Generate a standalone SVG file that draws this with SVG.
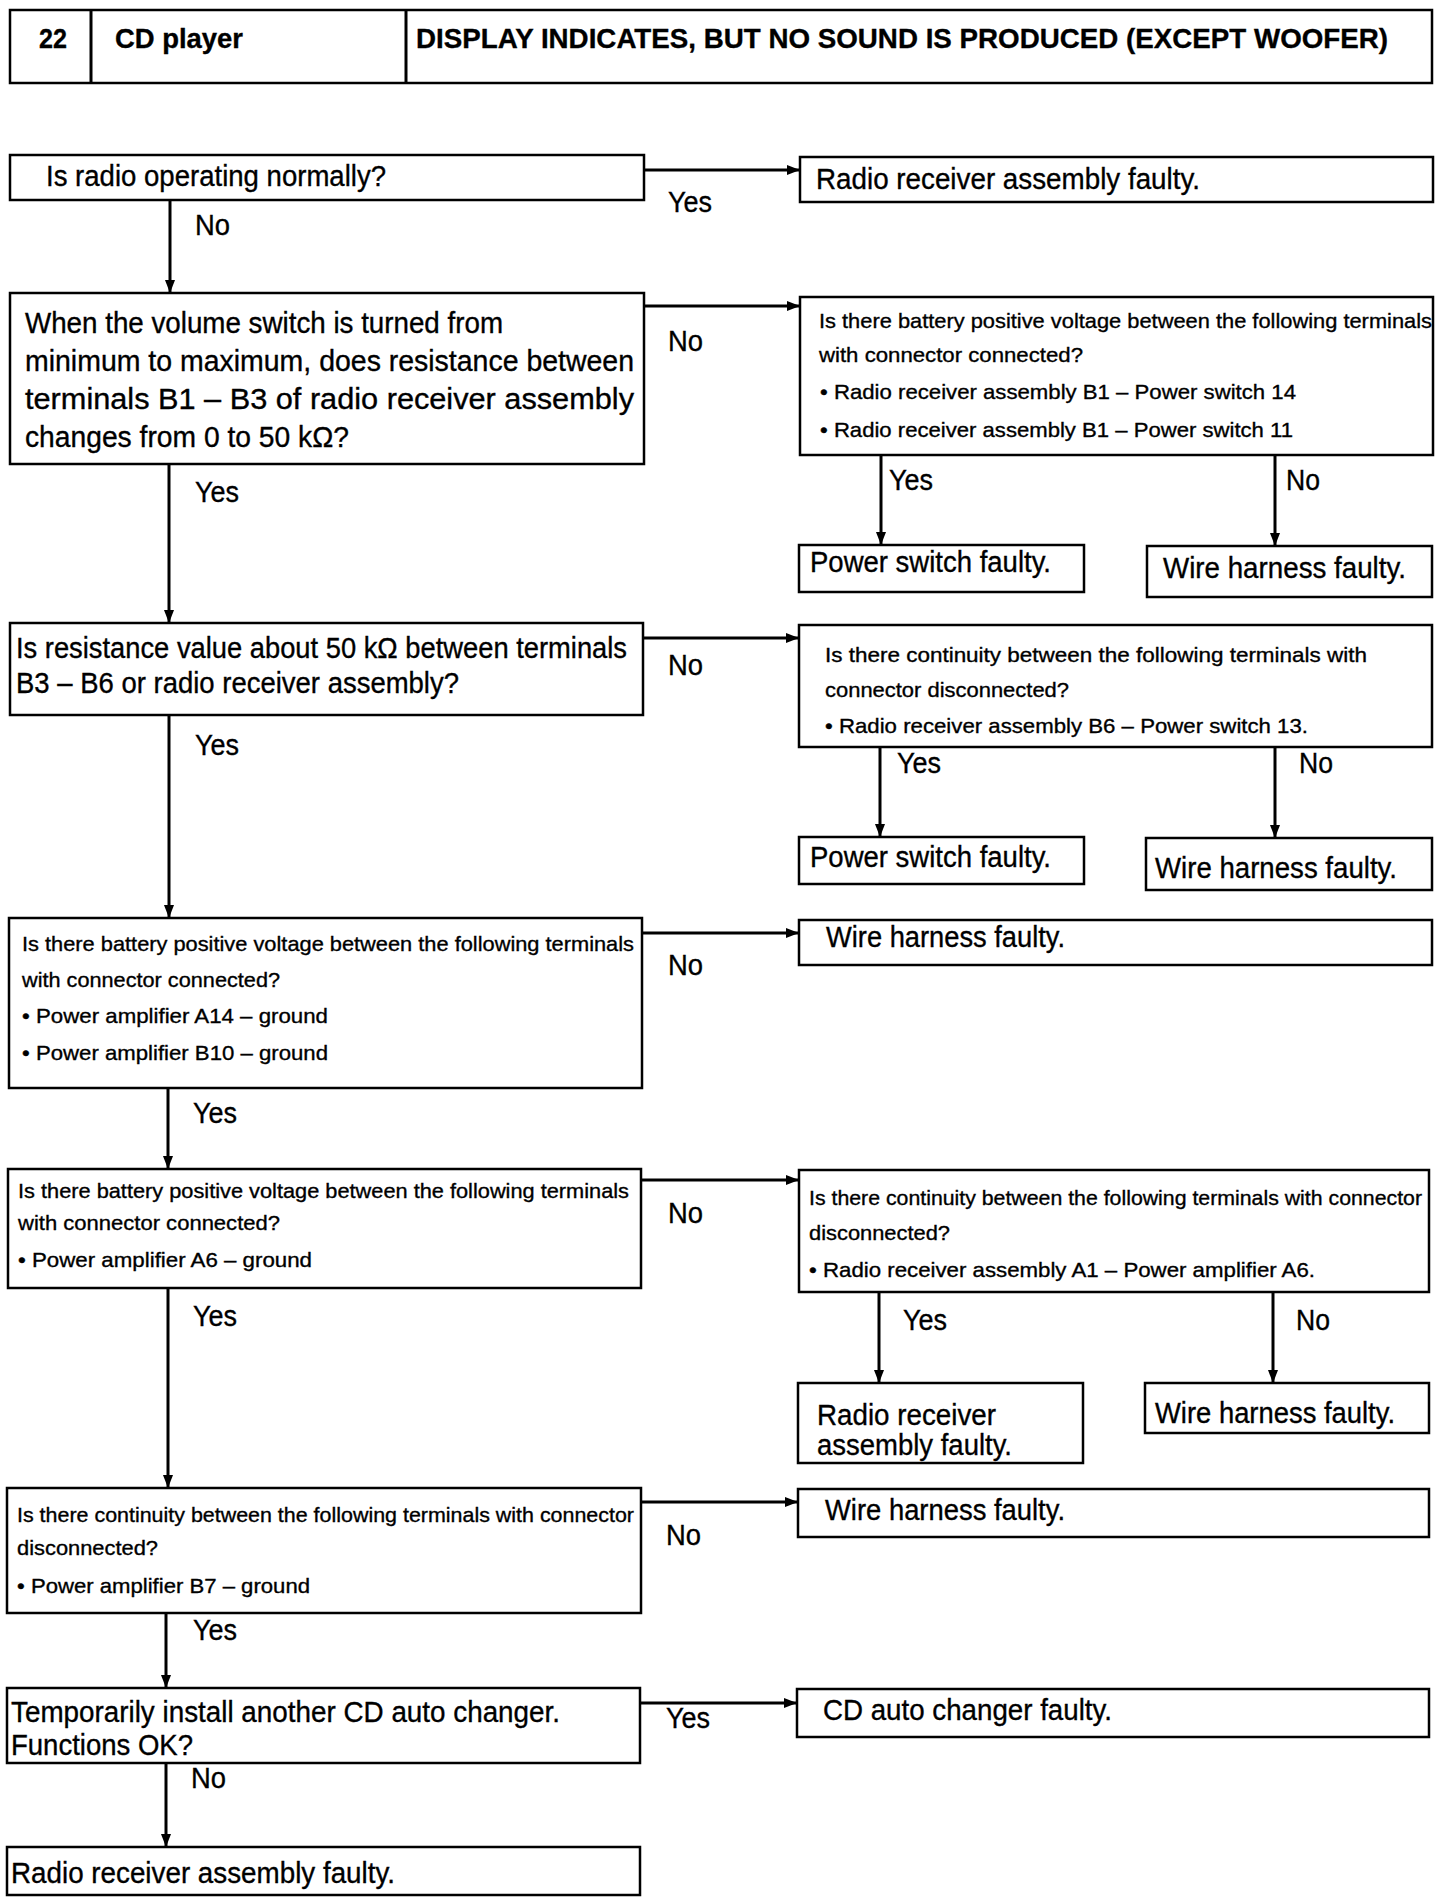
<svg xmlns="http://www.w3.org/2000/svg" width="1440" height="1902" viewBox="0 0 1440 1902">
<style>
.b{fill:#fff;stroke:#000;stroke-width:2.5}
.t{font-family:"Liberation Sans",Arial,sans-serif;fill:#000;stroke:#000;stroke-width:0.35}
.L{font-size:29px}
.S{font-size:21px}
.H{font-size:28px;font-weight:bold}
.c{stroke:#000;stroke-width:3;fill:none}
</style>
<defs>
<marker id="ah" viewBox="0 0 13 10" refX="13" refY="5" markerWidth="13" markerHeight="10" markerUnits="userSpaceOnUse" orient="auto"><path d="M0,0 L13,5 L0,10 z" fill="#000"/></marker>
</defs>
<rect width="1440" height="1902" fill="#fff"/>
<g id="header">
<rect class="b" x="10" y="10" width="1422" height="73"/>
<line class="c" x1="91" y1="10" x2="91" y2="83" stroke-width="2.5"/>
<line class="c" x1="406" y1="10" x2="406" y2="83" stroke-width="2.5"/>
<text class="t H" x="39" y="48" textLength="28" lengthAdjust="spacingAndGlyphs">22</text>
<text class="t H" x="115" y="48" textLength="128" lengthAdjust="spacingAndGlyphs">CD player</text>
<text class="t H" x="416" y="48" textLength="972" lengthAdjust="spacingAndGlyphs">DISPLAY INDICATES, BUT NO SOUND IS PRODUCED (EXCEPT WOOFER)</text>
</g>
<g id="connectors">
<line class="c" x1="644" y1="170" x2="800" y2="170" marker-end="url(#ah)"/>
<line class="c" x1="170" y1="200" x2="170" y2="293" marker-end="url(#ah)"/>
<line class="c" x1="644" y1="306" x2="800" y2="306" marker-end="url(#ah)"/>
<line class="c" x1="881" y1="455" x2="881" y2="545" marker-end="url(#ah)"/>
<line class="c" x1="1275" y1="455" x2="1275" y2="546" marker-end="url(#ah)"/>
<line class="c" x1="169" y1="464" x2="169" y2="623" marker-end="url(#ah)"/>
<line class="c" x1="643" y1="638" x2="799" y2="638" marker-end="url(#ah)"/>
<line class="c" x1="880" y1="747" x2="880" y2="837" marker-end="url(#ah)"/>
<line class="c" x1="1275" y1="747" x2="1275" y2="838" marker-end="url(#ah)"/>
<line class="c" x1="169" y1="715" x2="169" y2="918" marker-end="url(#ah)"/>
<line class="c" x1="643" y1="933" x2="799" y2="933" marker-end="url(#ah)"/>
<line class="c" x1="168" y1="1088" x2="168" y2="1169" marker-end="url(#ah)"/>
<line class="c" x1="641" y1="1180" x2="799" y2="1180" marker-end="url(#ah)"/>
<line class="c" x1="879" y1="1292" x2="879" y2="1383" marker-end="url(#ah)"/>
<line class="c" x1="1273" y1="1292" x2="1273" y2="1383" marker-end="url(#ah)"/>
<line class="c" x1="168" y1="1288" x2="168" y2="1488" marker-end="url(#ah)"/>
<line class="c" x1="641" y1="1502" x2="798" y2="1502" marker-end="url(#ah)"/>
<line class="c" x1="166" y1="1613" x2="166" y2="1688" marker-end="url(#ah)"/>
<line class="c" x1="640" y1="1703" x2="797" y2="1703" marker-end="url(#ah)"/>
<line class="c" x1="166" y1="1763" x2="166" y2="1847" marker-end="url(#ah)"/>
<text class="t L" x="668" y="212" textLength="44" lengthAdjust="spacingAndGlyphs">Yes</text>
<text class="t L" x="195" y="235" textLength="35" lengthAdjust="spacingAndGlyphs">No</text>
<text class="t L" x="668" y="351" textLength="35" lengthAdjust="spacingAndGlyphs">No</text>
<text class="t L" x="889" y="490" textLength="44" lengthAdjust="spacingAndGlyphs">Yes</text>
<text class="t L" x="1286" y="490" textLength="34" lengthAdjust="spacingAndGlyphs">No</text>
<text class="t L" x="195" y="502" textLength="44" lengthAdjust="spacingAndGlyphs">Yes</text>
<text class="t L" x="668" y="675" textLength="35" lengthAdjust="spacingAndGlyphs">No</text>
<text class="t L" x="195" y="755" textLength="44" lengthAdjust="spacingAndGlyphs">Yes</text>
<text class="t L" x="897" y="773" textLength="44" lengthAdjust="spacingAndGlyphs">Yes</text>
<text class="t L" x="1299" y="773" textLength="34" lengthAdjust="spacingAndGlyphs">No</text>
<text class="t L" x="668" y="975" textLength="35" lengthAdjust="spacingAndGlyphs">No</text>
<text class="t L" x="193" y="1123" textLength="44" lengthAdjust="spacingAndGlyphs">Yes</text>
<text class="t L" x="668" y="1223" textLength="35" lengthAdjust="spacingAndGlyphs">No</text>
<text class="t L" x="193" y="1326" textLength="44" lengthAdjust="spacingAndGlyphs">Yes</text>
<text class="t L" x="903" y="1330" textLength="44" lengthAdjust="spacingAndGlyphs">Yes</text>
<text class="t L" x="1296" y="1330" textLength="34" lengthAdjust="spacingAndGlyphs">No</text>
<text class="t L" x="666" y="1545" textLength="35" lengthAdjust="spacingAndGlyphs">No</text>
<text class="t L" x="193" y="1640" textLength="44" lengthAdjust="spacingAndGlyphs">Yes</text>
<text class="t L" x="666" y="1728" textLength="44" lengthAdjust="spacingAndGlyphs">Yes</text>
<text class="t L" x="191" y="1788" textLength="35" lengthAdjust="spacingAndGlyphs">No</text>
</g>
<g id="n1">
<rect class="b" x="10" y="155" width="634" height="45"/>
<text class="t L" x="46" y="186" textLength="340" lengthAdjust="spacingAndGlyphs">Is radio operating normally?</text>
</g>
<g id="r1">
<rect class="b" x="800" y="157" width="633" height="45"/>
<text class="t L" x="816" y="189" textLength="384" lengthAdjust="spacingAndGlyphs">Radio receiver assembly faulty.</text>
</g>
<g id="n2">
<rect class="b" x="10" y="293" width="634" height="171"/>
<text class="t L" x="25" y="333" textLength="478" lengthAdjust="spacingAndGlyphs">When the volume switch is turned from</text>
<text class="t L" x="25" y="371" textLength="609" lengthAdjust="spacingAndGlyphs">minimum to maximum, does resistance between</text>
<text class="t L" x="25" y="409" textLength="609" lengthAdjust="spacingAndGlyphs">terminals B1 – B3 of radio receiver assembly</text>
<text class="t L" x="25" y="447" textLength="324" lengthAdjust="spacingAndGlyphs">changes from 0 to 50 kΩ?</text>
</g>
<g id="n3">
<rect class="b" x="800" y="297" width="633" height="158"/>
<text class="t S" x="819" y="328" textLength="613" lengthAdjust="spacingAndGlyphs">Is there battery positive voltage between the following terminals</text>
<text class="t S" x="819" y="362" textLength="264" lengthAdjust="spacingAndGlyphs">with connector connected?</text>
<text class="t S" x="820" y="399" textLength="476" lengthAdjust="spacingAndGlyphs">• Radio receiver assembly B1 – Power switch 14</text>
<text class="t S" x="820" y="437" textLength="473" lengthAdjust="spacingAndGlyphs">• Radio receiver assembly B1 – Power switch 11</text>
</g>
<g id="r2">
<rect class="b" x="799" y="545" width="285" height="47"/>
<text class="t L" x="810" y="572" textLength="241" lengthAdjust="spacingAndGlyphs">Power switch faulty.</text>
</g>
<g id="r3">
<rect class="b" x="1147" y="546" width="285" height="51"/>
<text class="t L" x="1163" y="578" textLength="243" lengthAdjust="spacingAndGlyphs">Wire harness faulty.</text>
</g>
<g id="n4">
<rect class="b" x="10" y="623" width="633" height="92"/>
<text class="t L" x="16" y="658" textLength="611" lengthAdjust="spacingAndGlyphs">Is resistance value about 50 kΩ between terminals</text>
<text class="t L" x="16" y="693" textLength="443" lengthAdjust="spacingAndGlyphs">B3 – B6 or radio receiver assembly?</text>
</g>
<g id="n5">
<rect class="b" x="799" y="625" width="633" height="122"/>
<text class="t S" x="825" y="662" textLength="542" lengthAdjust="spacingAndGlyphs">Is there continuity between the following terminals with</text>
<text class="t S" x="825" y="697" textLength="244" lengthAdjust="spacingAndGlyphs">connector disconnected?</text>
<text class="t S" x="825" y="733" textLength="483" lengthAdjust="spacingAndGlyphs">• Radio receiver assembly B6 – Power switch 13.</text>
</g>
<g id="r4">
<rect class="b" x="799" y="837" width="285" height="47"/>
<text class="t L" x="810" y="867" textLength="241" lengthAdjust="spacingAndGlyphs">Power switch faulty.</text>
</g>
<g id="r5">
<rect class="b" x="1146" y="838" width="286" height="52"/>
<text class="t L" x="1155" y="878" textLength="242" lengthAdjust="spacingAndGlyphs">Wire harness faulty.</text>
</g>
<g id="n6">
<rect class="b" x="9" y="918" width="633" height="170"/>
<text class="t S" x="22" y="951" textLength="612" lengthAdjust="spacingAndGlyphs">Is there battery positive voltage between the following terminals</text>
<text class="t S" x="22" y="987" textLength="258" lengthAdjust="spacingAndGlyphs">with connector connected?</text>
<text class="t S" x="22" y="1023" textLength="306" lengthAdjust="spacingAndGlyphs">• Power amplifier A14 – ground</text>
<text class="t S" x="22" y="1060" textLength="306" lengthAdjust="spacingAndGlyphs">• Power amplifier B10 – ground</text>
</g>
<g id="r6">
<rect class="b" x="799" y="920" width="633" height="45"/>
<text class="t L" x="826" y="947" textLength="239" lengthAdjust="spacingAndGlyphs">Wire harness faulty.</text>
</g>
<g id="n7">
<rect class="b" x="8" y="1169" width="633" height="119"/>
<text class="t S" x="18" y="1198" textLength="611" lengthAdjust="spacingAndGlyphs">Is there battery positive voltage between the following terminals</text>
<text class="t S" x="18" y="1230" textLength="262" lengthAdjust="spacingAndGlyphs">with connector connected?</text>
<text class="t S" x="18" y="1267" textLength="294" lengthAdjust="spacingAndGlyphs">• Power amplifier A6 – ground</text>
</g>
<g id="n8">
<rect class="b" x="799" y="1170" width="630" height="122"/>
<text class="t S" x="809" y="1205" textLength="613" lengthAdjust="spacingAndGlyphs">Is there continuity between the following terminals with connector</text>
<text class="t S" x="809" y="1240" textLength="141" lengthAdjust="spacingAndGlyphs">disconnected?</text>
<text class="t S" x="809" y="1277" textLength="506" lengthAdjust="spacingAndGlyphs">• Radio receiver assembly A1 – Power amplifier A6.</text>
</g>
<g id="r7">
<rect class="b" x="798" y="1383" width="285" height="80"/>
<text class="t L" x="817" y="1425" textLength="179" lengthAdjust="spacingAndGlyphs">Radio receiver</text>
<text class="t L" x="817" y="1455" textLength="195" lengthAdjust="spacingAndGlyphs">assembly faulty.</text>
</g>
<g id="r8">
<rect class="b" x="1145" y="1383" width="284" height="50"/>
<text class="t L" x="1155" y="1423" textLength="240" lengthAdjust="spacingAndGlyphs">Wire harness faulty.</text>
</g>
<g id="n9">
<rect class="b" x="7" y="1488" width="634" height="125"/>
<text class="t S" x="17" y="1522" textLength="617" lengthAdjust="spacingAndGlyphs">Is there continuity between the following terminals with connector</text>
<text class="t S" x="17" y="1555" textLength="141" lengthAdjust="spacingAndGlyphs">disconnected?</text>
<text class="t S" x="17" y="1593" textLength="293" lengthAdjust="spacingAndGlyphs">• Power amplifier B7 – ground</text>
</g>
<g id="r9">
<rect class="b" x="798" y="1489" width="631" height="48"/>
<text class="t L" x="825" y="1520" textLength="240" lengthAdjust="spacingAndGlyphs">Wire harness faulty.</text>
</g>
<g id="n10">
<rect class="b" x="7" y="1688" width="633" height="75"/>
<text class="t L" x="11" y="1722" textLength="549" lengthAdjust="spacingAndGlyphs">Temporarily install another CD auto changer.</text>
<text class="t L" x="11" y="1755" textLength="182" lengthAdjust="spacingAndGlyphs">Functions OK?</text>
</g>
<g id="r10">
<rect class="b" x="797" y="1689" width="632" height="48"/>
<text class="t L" x="823" y="1720" textLength="289" lengthAdjust="spacingAndGlyphs">CD auto changer faulty.</text>
</g>
<g id="n11">
<rect class="b" x="7" y="1847" width="633" height="48"/>
<text class="t L" x="11" y="1883" textLength="384" lengthAdjust="spacingAndGlyphs">Radio receiver assembly faulty.</text>
</g>
</svg>
